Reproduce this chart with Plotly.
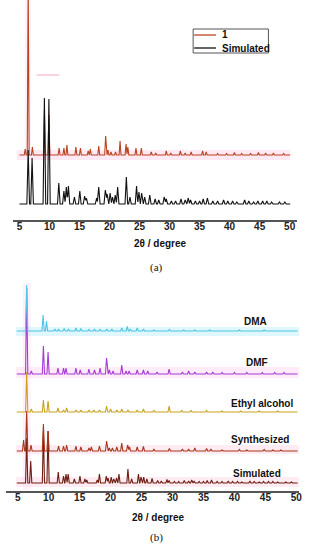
import plotly.graph_objects as go

W, H = 317, 550

# ---------------- data (2θ in degrees, intensities in arbitrary units) ----------------
# Panel (a)
a_sim_pos = [6.45, 7.1, 9.15, 9.9, 11.55, 12.4, 12.8, 13.15, 14.15, 15.05, 15.85, 16.15, 17.85, 18.2,
             19.3, 19.6, 20.1, 20.5, 20.95, 21.35, 22.8, 23.4, 24.5, 24.9, 25.35, 25.85, 26.7, 27.6,
             28.2, 29.1, 29.45, 30.3, 31.0, 31.9, 32.6, 33.1, 33.5, 34.3, 35.0, 35.6, 36.3, 37.2,
             38.0, 39.0, 39.7, 40.5, 41.2, 42.5, 43.2, 44.0, 44.7, 45.5, 46.2, 47.0, 48.3, 49.2]
a_sim_int = [54, 46, 106, 105, 21, 13, 17, 18, 7, 13, 8, 6, 6, 17,
             14, 10, 11, 7, 9, 17, 27, 7, 18, 12, 11, 7, 9, 5,
             4, 7, 5, 3, 3, 5, 4, 6, 4, 3, 3, 5, 6, 3,
             3, 4, 3, 3, 2, 4, 3, 2, 3, 3, 3, 2, 2, 2]

a_exp_pos = [5.95, 6.45, 7.15, 9.15, 9.9, 11.6, 12.4, 12.9, 14.4, 15.15, 16.45, 16.8, 18.2, 19.35,
             19.75, 20.25, 21.0, 21.75, 22.75, 23.05, 24.4, 25.3, 26.95, 27.7, 29.45, 30.2, 31.8,
             32.6, 33.6, 35.5, 36.1, 38.0, 39.5, 40.8, 42.0, 43.5, 44.8, 46.0, 47.3, 49.0]
a_exp_int = [6, 175, 8, 45, 40, 7, 7, 10, 8, 7, 4, 6, 9, 19,
             5, 3, 3, 14, 11, 8, 7, 7, 3, 2, 4, 2, 4,
             2, 3, 4, 3, 1.5, 1.5, 2.5, 1.5, 1.5, 2.5, 2, 2, 1.5]

# Panel (b)
b_dma_pos = [6.45, 9.1, 9.65, 11.0, 11.6, 12.5, 13.2, 14.4, 15.2, 16.5, 17.4, 18.3, 19.4, 20.2, 21.8,
             22.7, 23.2, 24.3, 25.3, 27.0, 29.5, 31.8, 33.6, 36.0, 40.8, 44.8]
b_dma_int = [46, 16, 10, 2, 2, 2.5, 2, 3, 2.5, 1.5, 2, 1.5, 2, 2, 3,
             4.5, 2, 3, 2, 1, 1.5, 1, 1, 1, 1, 1]

b_dmf_pos = [6.45, 7.2, 9.15, 9.9, 11.5, 12.4, 12.8, 14.4, 15.1, 16.5, 17.4, 18.3, 19.35, 19.8, 20.4,
             21.8, 22.5, 23.0, 24.3, 25.3, 26.0, 27.5, 29.45, 31.6, 32.6, 33.6, 35.5, 36.5, 38.0,
             40.0, 42.0, 44.5, 46.5, 48.0]
b_dmf_int = [86, 3, 28, 22, 6, 6, 6, 6, 4, 5, 4, 6, 16, 4, 3,
             9, 3, 3, 4, 4, 3, 2, 5, 2, 3, 2, 2, 2, 1.5,
             1.5, 1.5, 1.5, 1.5, 1.5]

b_eth_pos = [6.45, 7.2, 9.15, 9.9, 11.5, 12.4, 12.9, 14.4, 15.2, 16.5, 17.3, 18.2, 19.35, 20.0, 21.0,
             21.8, 22.8, 24.3, 25.3, 27.0, 29.45, 31.5, 33.0, 35.5, 38.0, 41.0, 44.0, 47.0]
b_eth_int = [40, 3, 12, 11, 4, 2, 4, 2, 2, 2, 2, 2, 6, 3, 2,
             3, 2, 2, 3, 1.5, 6, 1.5, 1.5, 1.5, 1, 1, 1, 1]

b_syn_pos = [5.95, 6.45, 7.15, 9.15, 9.9, 11.6, 12.4, 12.9, 14.4, 15.2, 16.5, 16.9, 18.2, 19.35, 19.8,
             20.3, 21.0, 21.8, 22.75, 23.05, 24.3, 25.3, 27.0, 29.5, 31.6, 32.6, 33.6, 35.5, 36.2,
             38.0, 40.8, 42.0, 44.8, 46.2, 47.5]
b_syn_int = [11, 40, 6, 27, 20, 5, 5, 6, 5, 4, 3, 4, 5, 10, 3,
             3, 4, 8, 6, 4, 4, 4.5, 2, 2.5, 2, 2, 3, 2.5, 2,
             1, 1.5, 1, 1.5, 1, 1]

b_sim_pos = a_sim_pos
b_sim_int = [45, 22, 52, 52, 11, 7, 9, 9, 4, 7, 4, 3, 3, 9,
             7, 5, 6, 4, 5, 9, 14, 4, 9, 6, 6, 4, 4.5, 2.5,
             2, 3.5, 2.5, 1.5, 1.5, 2.5, 2, 3, 2, 1.5, 1.5, 2.5, 3, 1.5,
             1.5, 2, 1.5, 1.5, 1, 2, 1.5, 1, 1.5, 1.5, 1.5, 1, 1, 1]

tick_vals = [5, 10, 15, 20, 25, 30, 35, 40, 45, 50]
tick_text = ["5", "10", "15", "20", "25", "30", "35", "40", "45", "50"]

# ---------------- styling ----------------
C_EXP = "#bb4320"
C_SIMA = "#111111"
C_DMA = "#4fc4e4"
C_DMF = "#a63ad6"
C_ETH = "#c9a21e"
C_SYN = "#a8361a"
C_SIMB = "#6e1e12"
FONT = "Liberation Sans"


def px_x(p):
    return p / W


def px_y(p):
    return 1 - p / H


def profile(pos, ints, base, hw, x0, x1):
    xs = {x0, x1}
    for p in pos:
        for x in (p - hw, p, p + hw):
            if x0 <= x <= x1:
                xs.add(round(x, 4))
    xs = sorted(xs)
    ys = []
    for x in xs:
        y = base
        for p, h in zip(pos, ints):
            d = abs(x - p)
            if d < hw:
                y += h * (1 - d / hw)
        ys.append(y)
    return xs, ys


fig = go.Figure()

# panel (a)
xa, ya = profile(a_exp_pos, a_exp_int, 65, 0.16, 5.0, 50.1)
fig.add_trace(go.Scatter(x=xa, y=ya, mode="lines", line=dict(color=C_EXP, width=1.1),
                         xaxis="x", yaxis="y", showlegend=False))
xa, ya = profile(a_sim_pos, a_sim_int, 16, 0.22, 5.0, 50.1)
fig.add_trace(go.Scatter(x=xa, y=ya, mode="lines", line=dict(color=C_SIMA, width=1.1),
                         xaxis="x", yaxis="y", showlegend=False))

# panel (b)
b_series = [
    (b_sim_pos, b_sim_int, 8, C_SIMB),
    (b_syn_pos, b_syn_int, 40, C_SYN),
    (b_eth_pos, b_eth_int, 79, C_ETH),
    (b_dmf_pos, b_dmf_int, 117, C_DMF),
    (b_dma_pos, b_dma_int, 160, C_DMA),
]
for pos, ints, base, col in b_series:
    xb, yb = profile(pos, ints, base, 0.18, 4.85, 50.2)
    fig.add_trace(go.Scatter(x=xb, y=yb, mode="lines", line=dict(color=col, width=1.1),
                             xaxis="x2", yaxis="y2", showlegend=False))

axis_common = dict(showline=True, linecolor="#555555", linewidth=2, ticks="", ticklen=0,
                   ticklabelstandoff=-4,
                   tickvals=tick_vals, ticktext=tick_text, showgrid=False,
                   zeroline=False, tickfont=dict(family=FONT, size=10, color="#222222", weight="bold"))

fig.update_layout(
    width=W, height=H, margin=dict(l=0, r=0, t=0, b=0),
    paper_bgcolor="white", plot_bgcolor="rgba(0,0,0,0)",
    xaxis=dict(domain=[px_x(13), px_x(300)], range=[3.9, 51.25], anchor="y", **axis_common),
    yaxis=dict(domain=[px_y(220), 1], range=[0, 220], visible=False),
    xaxis2=dict(domain=[px_x(6), px_x(302)], range=[3.1, 50.45], anchor="y2", **axis_common),
    yaxis2=dict(domain=[px_y(491), px_y(283)], range=[0, 208], visible=False),
)

shapes = []


def band(x0, y0, x1, y1, col):
    shapes.append(dict(type="rect", xref="paper", yref="paper", x0=px_x(x0), x1=px_x(x1),
                       y0=px_y(y1), y1=px_y(y0), fillcolor=col, line=dict(width=0), layer="below"))


band(17, 150, 293, 160, "rgba(255,200,222,0.40)")
band(25, 0, 31, 150, "rgba(255,200,222,0.25)")
band(16, 327, 302, 336, "rgba(175,235,250,0.40)")
band(16, 367, 302, 378, "rgba(255,200,235,0.35)")
band(16, 445, 302, 454, "rgba(255,200,222,0.35)")
band(16, 477, 302, 487, "rgba(255,200,222,0.35)")
band(23, 283, 31, 490, "rgba(255,200,230,0.25)")
shapes.append(dict(type="line", xref="paper", yref="paper", x0=px_x(37), x1=px_x(60),
                   y0=px_y(75), y1=px_y(75), line=dict(color="#f2a7c6", width=1)))

# legend box for panel (a)
shapes.append(dict(type="rect", xref="paper", yref="paper", x0=px_x(195), x1=px_x(271),
                   y0=px_y(53), y1=px_y(29), line=dict(color="#555555", width=1),
                   fillcolor="white"))
for yy, col in ((35, C_EXP), (48, C_SIMA)):
    shapes.append(dict(type="line", xref="paper", yref="paper", x0=px_x(196), x1=px_x(218),
                       y0=px_y(yy), y1=px_y(yy), line=dict(color=col, width=1.3)))
fig.update_layout(shapes=shapes)

ann = []
bold = dict(family=FONT, size=10, color="#111111", weight="bold")
ann.append(dict(text="1", x=px_x(222), y=px_y(35), xanchor="left", yanchor="middle", font=bold))
ann.append(dict(text="Simulated", x=px_x(222), y=px_y(48), xanchor="left", yanchor="middle", font=bold))
ann.append(dict(text="2θ / degree", x=px_x(162), y=px_y(243), xanchor="center", yanchor="middle", font=bold))
ann.append(dict(text="2θ / degree", x=px_x(160), y=px_y(517), xanchor="center", yanchor="middle", font=bold))
serif = dict(family="Liberation Serif", size=11, color="#111111")
ann.append(dict(text="(a)", x=px_x(158), y=px_y(267), xanchor="center", yanchor="middle", font=serif))
ann.append(dict(text="(b)", x=px_x(158), y=px_y(537), xanchor="center", yanchor="middle", font=serif))

b_labels = ["DMA", "DMF", "Ethyl alcohol", "Synthesized", "Simulated"]
b_label_pos = [(258, 321), (259, 362), (265, 403), (262, 439), (259, 473)]
for t, (lx, ly) in zip(b_labels, b_label_pos):
    ann.append(dict(text=t, x=px_x(lx), y=px_y(ly), xanchor="center", yanchor="middle", font=bold))

for a in ann:
    a.update(xref="paper", yref="paper", showarrow=False)
fig.update_layout(annotations=ann)

fig.write_html("out.html", config={"displayModeBar": False},
               post_script="document.body.style.margin='0';document.body.style.overflow='hidden';")
